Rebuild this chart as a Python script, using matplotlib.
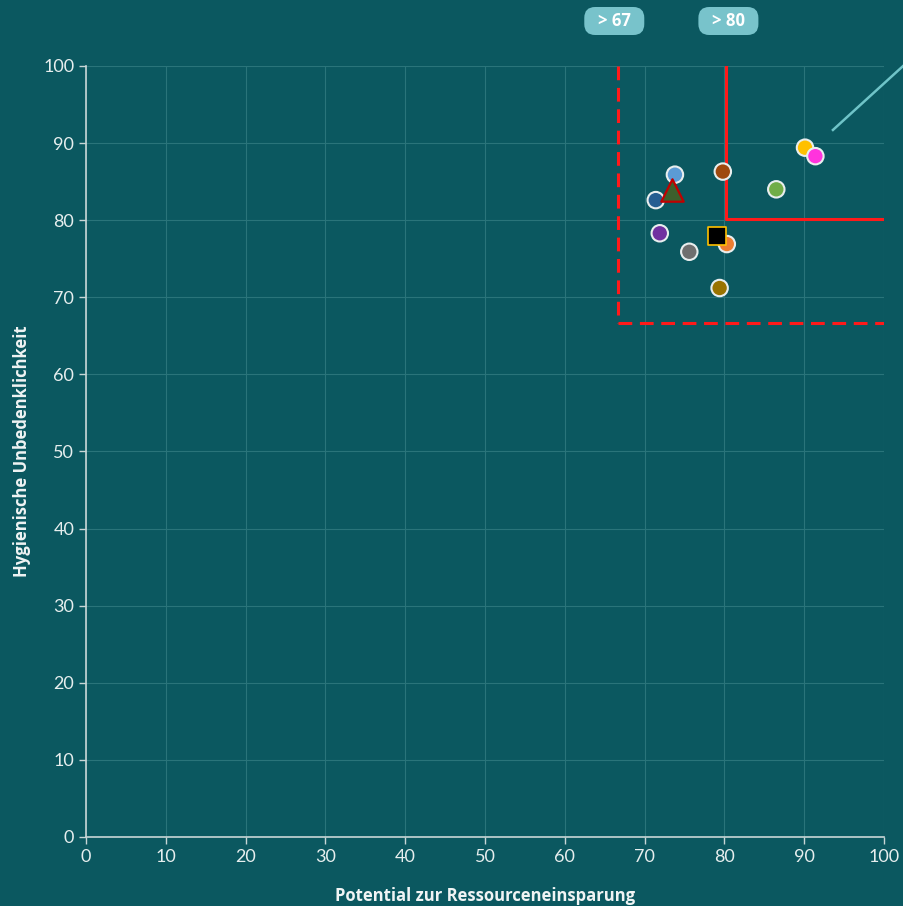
import matplotlib
matplotlib.use("Agg")
import matplotlib.pyplot as plt
from matplotlib.patches import FancyBboxPatch

plt.rcParams['font.family'] = ['Open Sans', 'DejaVu Sans']

# Data
x_vals = [73.8, 71.4, 71.9, 75.6, 79.8, 80.3, 79.4, 86.5, 90.1, 91.4]
y_vals = [85.9, 82.6, 78.3, 75.9, 86.3, 76.9, 71.2, 84.0, 89.4, 88.3]
colors = ['#5b9bd5', '#255e91', '#7030a0', '#6f6f6f', '#9e480e', '#ed7d31',
          '#997300', '#70ad47', '#ffc000', '#ff33dd']
tri_x, tri_y = [73.4], [83.9]
sq_x, sq_y = [79.1], [77.9]
thr_low = 66.7
thr_high = 80.2
leader_x = [93.6, 102.5]
leader_y = [91.7, 100.1]
ticks = [0, 10, 20, 30, 40, 50, 60, 70, 80, 90, 100]
badge_labels = ['> 67', '> 80']
badge_x = [66.2, 80.5]

bg = '#0b5860'
W, H = 904, 906
fig = plt.figure(figsize=(W / 100, H / 100), dpi=100, facecolor=bg)
ax = fig.add_axes([0.0951, 0.0762, 0.8828, 0.851])
ax.set_facecolor(bg)
ax.set_xlim(0, 100)
ax.set_ylim(0, 100)
ax.set_xticks(ticks)
ax.set_yticks(ticks)
ax.grid(True, color='#2a747a', linewidth=0.8)
ax.set_axisbelow(True)
for s in ['top', 'right']:
    ax.spines[s].set_visible(False)
for s in ['left', 'bottom']:
    ax.spines[s].set_color('#c8d6d6')
    ax.spines[s].set_linewidth(1.2)
ax.tick_params(colors='#c8d6d6', labelcolor='#e6eeee', labelsize=13, length=5, width=1.0)
plt.setp(ax.get_xticklabels() + ax.get_yticklabels(), family=['Lato', 'DejaVu Sans'])

# threshold lines
ax.plot([thr_low, thr_low], [100, thr_low], color='#ff1a1a', lw=2.2, ls=(0, (4.5, 2.5)))
ax.plot([thr_low, 100], [thr_low, thr_low], color='#ff1a1a', lw=2.2, ls=(0, (4.5, 2.5)))
ax.plot([thr_high, thr_high, 100], [100, thr_high, thr_high], color='#ff1a1a', lw=2.2)

# points
ax.scatter(x_vals, y_vals, s=140, c=colors, edgecolors='#e8eeee', linewidths=1.5, zorder=3)
ax.scatter(tri_x, tri_y, s=260, marker='^', c='#3d5f2c', edgecolors='#c00000', linewidths=1.6, zorder=4)
ax.scatter(sq_x, sq_y, s=160, marker='s', c='black', edgecolors='#ffc000', linewidths=1.2, zorder=4)

# leader line
ax.plot(leader_x, leader_y, color='#6fc4c8', lw=1.8, clip_on=False)

# badges
bw, bh = 60 / W, 28 / H
for lbl, bx in zip(badge_labels, badge_x):
    xf, _ = fig.transFigure.inverted().transform(ax.transData.transform((bx, 0)))
    yc = 1 - 21 / H
    p = FancyBboxPatch((xf - bw / 2, yc - bh / 2), bw, bh, transform=fig.transFigure,
                       boxstyle='round,pad=0,rounding_size=0.012', fc='#78c3cb', ec='none')
    fig.patches.append(p)
    fig.text(xf, yc, lbl, ha='center', va='center', color='white', fontsize=12, fontweight='bold')

ax.set_xlabel('Potential zur Ressourceneinsparung', color='#f0f4f4', fontsize=12, fontweight='bold', labelpad=16)
ax.set_ylabel('Hygienische Unbedenklichkeit', color='#f0f4f4', fontsize=12, fontweight='bold', labelpad=9)

fig.savefig('out.png', dpi=100, facecolor=bg)
